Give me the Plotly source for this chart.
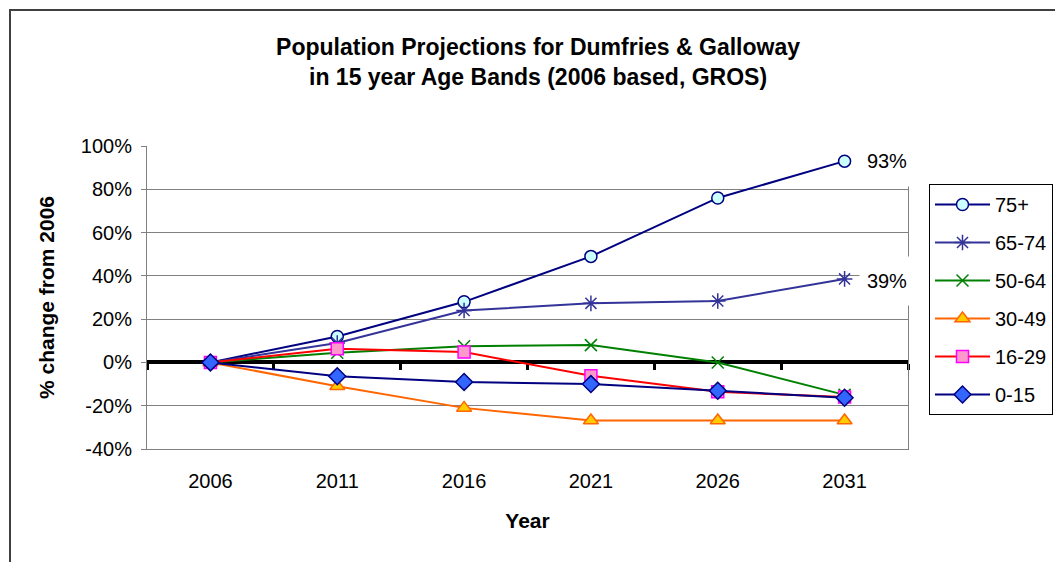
import plotly.graph_objects as go

years = [2006, 2011, 2016, 2021, 2026, 2031]
series_names = ["75+", "65-74", "50-64", "30-49", "16-29", "0-15"]
age_75_plus = [0, 12, 28, 49, 76, 93]
age_65_74 = [0, 9, 24, 27.3, 28.4, 38.6]
age_50_64 = [0, 4.5, 7.5, 8, 0, -15]
age_30_49 = [0, -11, -21, -26.8, -26.8, -26.8]
age_16_29 = [0, 6.3, 4.8, -6.2, -13.6, -16]
age_0_15 = [0, -6.4, -9, -10, -13.1, -16.3]
y_ticks = [100, 80, 60, 40, 20, 0, -20, -40]
y_tick_labels = ["100%", "80%", "60%", "40%", "20%", "0%", "-20%", "-40%"]
end_labels = ["93%", "39%"]

FONT = "Arial, Liberation Sans, sans-serif"

styles = [
    dict(line=dict(color="#000080", width=2),
         marker=dict(symbol="circle", size=12, color="#CCFFFF", line=dict(color="#000080", width=1.5))),
    dict(line=dict(color="#333399", width=2),
         marker=dict(symbol="asterisk-open", size=13, color="#333399", line=dict(color="#333399", width=1.5))),
    dict(line=dict(color="#008000", width=2),
         marker=dict(symbol="x-thin-open", size=12, color="#008000", line=dict(color="#008000", width=1.5))),
    dict(line=dict(color="#FF6600", width=2),
         marker=dict(symbol="triangle-up", size=13, color="#FFCC00", line=dict(color="#FF6600", width=1.5))),
    dict(line=dict(color="#FF0000", width=2),
         marker=dict(symbol="square", size=12, color="#FF99CC", line=dict(color="#FF00FF", width=1.5))),
    dict(line=dict(color="#000080", width=2),
         marker=dict(symbol="diamond", size=13, color="#3366FF", line=dict(color="#000080", width=1.5))),
]
values = [age_75_plus, age_65_74, age_50_64, age_30_49, age_16_29, age_0_15]

fig = go.Figure()
for i, (name, vals, st) in enumerate(zip(series_names, values, styles)):
    fig.add_trace(go.Scatter(x=years, y=vals, name=name, mode="lines+markers",
                             line=st["line"], marker=st["marker"],
                             legendgroup=f"g{i}"))

# invisible trace to host the zero-crossing axis
fig.add_trace(go.Scatter(x=years, y=age_0_15, xaxis="x2", mode="lines",
                         line=dict(width=0), opacity=0, showlegend=False, hoverinfo="skip"))

step = years[1] - years[0]
xmin = years[0] - step / 2
xmax = years[-1] + step / 2
boundaries = [y - step / 2 for y in years] + [xmax]
ymin, ymax = -40, 100

L, R, T, B = 147, 147, 146, 113
PW, PH = 1055 - L - R, 562 - T - B

def px(xp):
    return (xp - L) / PW

def py(yp):
    return (562 - B - yp) / PH

fig.update_layout(
    width=1055, height=562,
    margin=dict(l=L, r=R, t=T, b=B, autoexpand=False),
    paper_bgcolor="white", plot_bgcolor="white",
    font=dict(family=FONT, size=20, color="black"),
    title=dict(text="<b>Population Projections for Dumfries & Galloway<br>in 15 year Age Bands (2006 based, GROS)</b>",
               x=0.51, xanchor="center", y=1 - 55 / 562, yanchor="middle", yref="container",
               font=dict(family=FONT, size=23, color="black")),
    xaxis=dict(range=[xmin, xmax], tickvals=years, ticktext=[str(y) for y in years],
               showgrid=False, zeroline=False, showline=True, linecolor="#808080", linewidth=1,
               ticks="", ticklabelstandoff=14,
               title=dict(text="<b>Year</b>", font=dict(size=21), standoff=22)),
    xaxis2=dict(range=[xmin, xmax], overlaying="x", anchor="free", position=(0 - ymin) / (ymax - ymin),
                showline=True, linecolor="black", linewidth=4, layer="below traces",
                ticks="outside", tickvals=boundaries, ticklen=6, tickwidth=3, tickcolor="black",
                showticklabels=False, showgrid=False, zeroline=False),
    yaxis=dict(range=[ymin, ymax], tickvals=y_ticks, ticktext=y_tick_labels,
               showgrid=True, gridcolor="#808080", gridwidth=1, zeroline=False,
               showline=True, mirror=True, linecolor="#808080", linewidth=1,
               ticks="outside", ticklen=5, tickcolor="#808080", ticklabelstandoff=5,
               title=dict(text="<b>% change from 2006</b>", font=dict(size=21), standoff=20)),
    legend=dict(x=px(929), xanchor="left", y=py(184), yanchor="top",
                bordercolor="black", borderwidth=1, bgcolor="white",
                itemwidth=55, tracegroupgap=9, font=dict(size=20)),
    showlegend=True,
)

# right-hand end labels
fig.add_annotation(x=years[-1], y=age_75_plus[-1], text=end_labels[0], xanchor="left", yanchor="middle",
                   xshift=14, showarrow=False, bgcolor="white", width=52, height=48, font=dict(size=20))
fig.add_annotation(x=years[-1], y=age_65_74[-1], text=end_labels[1], xanchor="left", yanchor="middle",
                   xshift=14, yshift=-2, showarrow=False, bgcolor="white", width=52, height=46, font=dict(size=20))

# chart-area frame (top and left edges visible in the picture)
fig.add_shape(type="rect", xref="paper", yref="paper", x0=px(10), x1=px(1075), y0=py(600), y1=py(10),
              line=dict(color="#404040", width=2), fillcolor="rgba(0,0,0,0)", layer="above")

fig.write_html("out.html")
